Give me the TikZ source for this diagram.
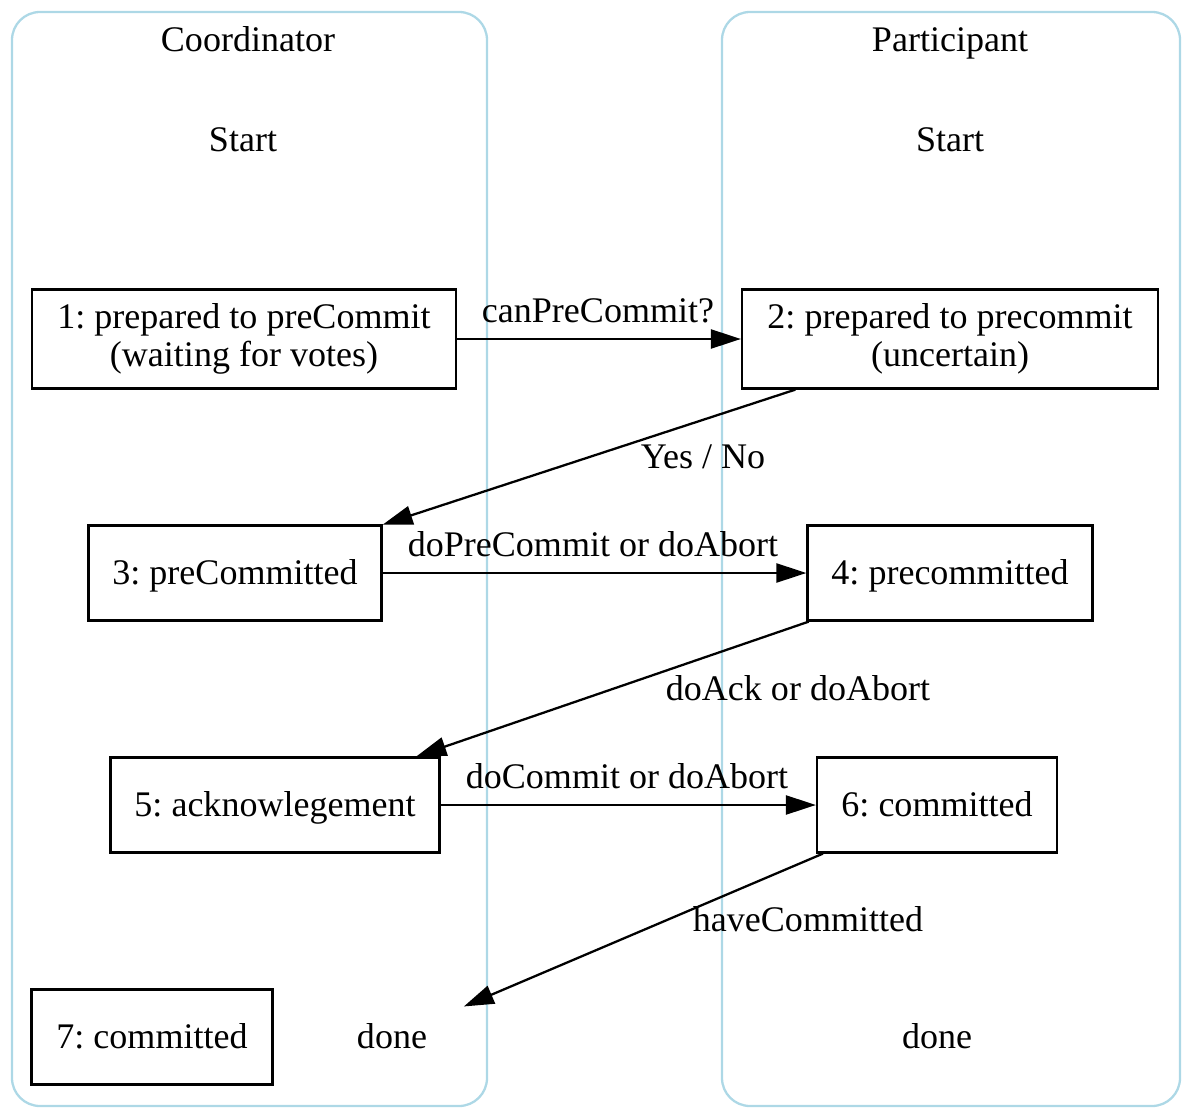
\documentclass[tikz,border=0pt]{standalone}
\usepackage{fontspec}
\setmainfont{Liberation Serif}
\usetikzlibrary{arrows.meta}
\definecolor{clusterblue}{RGB}{173,216,230}

\begin{document}
\frenchspacing
\begin{tikzpicture}[x=0.02cm, y=-0.02cm, font=\fontsize{20.5}{22}\selectfont,
  every node/.style={text height=14.5pt, text depth=1pt}]
\def\l{0.6cm}
\def\w{0.38cm}
\def\r{0.56cm}
\useasboundingbox (0,0) rectangle (1183,1108);
%clusters
\draw[clusterblue, line width=1.3pt, rounded corners=\r] (12,12) rectangle (487,1106);
\draw[clusterblue, line width=1.3pt, rounded corners=\r] (722,12) rectangle (1180,1106);
\node [name=ctitle] at (248,40) {Coordinator};
\node [name=ptitle] at (950,40) {Participant};
\node [name=cstart] at (243,140) {Start};
\node [name=pstart] at (950,140) {Start};
%states
\node [draw, line width=1.3pt, align=center, text height=, text depth=, minimum width=8.48cm, minimum height=1.98cm, name=s1] at (244,339) {1: prepared to preCommit\\(waiting for votes)};
\node [draw, line width=1.3pt, align=center, text height=, text depth=, minimum width=8.32cm, minimum height=1.98cm, name=s2] at (950,339) {2: prepared to precommit\\(uncertain)};
\node [draw, line width=1.3pt, minimum width=5.86cm, minimum height=1.9cm, name=s3] at (235,573) {3: preCommitted};
\node [draw, line width=1.3pt, minimum width=5.7cm, minimum height=1.9cm, name=s4] at (950,573) {4: precommitted};
\node [draw, line width=1.3pt, minimum width=6.58cm, minimum height=1.9cm, name=s5] at (275,805) {5: acknowlegement};
\node [draw, line width=1.3pt, minimum width=4.8cm, minimum height=1.9cm, name=s6] at (937,805) {6: committed};
\node [draw, line width=1.3pt, minimum width=4.82cm, minimum height=1.9cm, name=s7] at (152,1037) {7: committed};
\node [minimum width=2.86cm, minimum height=1.9cm, name=cdone] at (392,1037) {done};
\node [minimum width=2.86cm, minimum height=1.9cm, name=pdone] at (937,1037) {done};
%messages
\draw [line width=1.3pt, -{Triangle[length=\l, width=\w]}](s1) -- (s2);
\draw [line width=1.3pt, -{Triangle[length=\l, width=\w]}](s2) -- (s3);
\draw [line width=1.3pt, -{Triangle[length=\l, width=\w]}](s3) -- (s4);
\draw [line width=1.3pt, -{Triangle[length=\l, width=\w]}](s4) -- (s5);
\draw [line width=1.3pt, -{Triangle[length=\l, width=\w]}](s5) -- (s6);
\draw [line width=1.3pt, -{Triangle[length=\l, width=\w]}](s6) -- (cdone);
\node [name=m1] at (598,311) {canPreCommit?};
\node [name=m2] at (703,457) {Yes / No};
\node [name=m3] at (593,545) {doPreCommit or doAbort};
\node [name=m4] at (798,689) {doAck or doAbort};
\node [name=m5] at (627,777) {doCommit or doAbort};
\node [name=m6] at (808,920) {haveCommitted};
\end{tikzpicture}
\end{document}
